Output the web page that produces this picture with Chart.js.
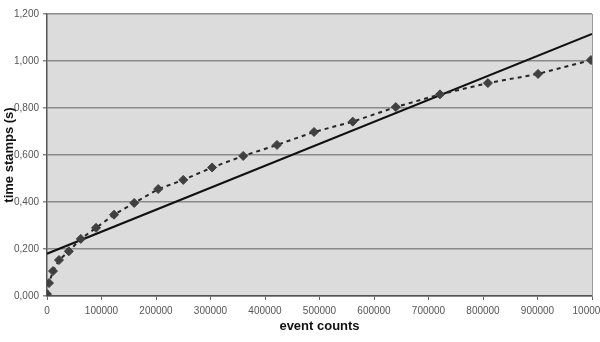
<!DOCTYPE html>
<html>
<head>
<meta charset="utf-8">
<script src="https://cdn.jsdelivr.net/npm/chart.js@4.4.1/dist/chart.umd.min.js"></script>
<style>
    html, body { margin: 0; padding: 0; background: #fff; }
    #wrap { width: 600px; height: 342px; }
</style>
</head>
<body>
<div id="wrap"><canvas id="timeChart" width="600" height="342"></canvas></div>
<script>
// measured samples: event counts vs time stamps
const eventCounts = [0, 3700, 11000, 22000, 40000, 62000, 90000, 123000, 160000, 204000,
    250000, 303000, 360000, 422000, 490000, 561000, 640000, 721000, 809000, 901000, 998000];
const timeStamps = [0.008, 0.055, 0.106, 0.153, 0.190, 0.243, 0.290, 0.346, 0.396, 0.455,
    0.494, 0.547, 0.596, 0.643, 0.698, 0.742, 0.804, 0.858, 0.906, 0.945, 1.004];

// linear trend line end points
const trendCounts = [0, 1000000];
const trendStamps = [0.180, 1.115];

const xTicks = [0, 100000, 200000, 300000, 400000, 500000, 600000, 700000, 800000, 900000, 1000000];
const yTicks = [0, 0.2, 0.4, 0.6, 0.8, 1.0, 1.2];

let samplePoints = [];
for (let i = 0; i < eventCounts.length; i++) {
    samplePoints.push({x: eventCounts[i], y: timeStamps[i]});
}
let trendPoints = [];
for (let i = 0; i < trendCounts.length; i++) {
    trendPoints.push({x: trendCounts[i], y: trendStamps[i]});
}

// grey plot background plus the right-hand border
const plotBackground = {
    id: 'plotBackground',
    beforeDraw(chart) {
        const a = chart.chartArea;
        const ctx = chart.ctx;
        ctx.save();
        ctx.fillStyle = '#dcdcdc';
        ctx.fillRect(a.left, a.top, a.right - a.left, a.bottom - a.top);
        ctx.restore();
    },
    afterDatasetsDraw(chart) {
        const a = chart.chartArea;
        const ctx = chart.ctx;
        ctx.save();
        ctx.strokeStyle = '#9a9a9a';
        ctx.lineWidth = 1;
        ctx.beginPath();
        ctx.moveTo(a.right + 0.5, a.top);
        ctx.lineTo(a.right + 0.5, a.bottom);
        ctx.stroke();
        ctx.restore();
    }
};

Chart.defaults.font.family = 'Arial, "Liberation Sans", sans-serif';

const tickFont = {size: 10};
const titleFont = {size: 13, weight: 'bold'};

new Chart(document.getElementById('timeChart'), {
    type: 'scatter',
    data: {
        datasets: [
            {
                label: 'time stamps',
                data: samplePoints,
                showLine: true,
                borderColor: '#262626',
                borderWidth: 2,
                borderDash: [4, 4],
                pointStyle: 'rectRot',
                pointRadius: 4.5,
                pointBackgroundColor: '#404040',
                pointBorderColor: '#404040',
                pointBorderWidth: 1
            },
            {
                label: 'trend',
                data: trendPoints,
                showLine: true,
                borderColor: '#111',
                borderWidth: 2,
                pointRadius: 0
            }
        ]
    },
    options: {
        responsive: false,
        animation: false,
        layout: {padding: {top: 14, right: 8, left: 0, bottom: 0}},
        plugins: {
            legend: {display: false},
            tooltip: {enabled: false}
        },
        scales: {
            x: {
                type: 'linear',
                min: 0,
                max: 1000000,
                afterBuildTicks: scale => { scale.ticks = xTicks.map(v => ({value: v})); },
                afterFit: scale => { scale.height = 46; scale.paddingRight = 0; scale.paddingLeft = 0; },
                ticks: {
                    color: '#555',
                    font: tickFont,
                    padding: 5,
                    maxRotation: 0,
                    autoSkip: false,
                    callback: v => String(v)
                },
                grid: {
                    drawOnChartArea: false,
                    drawTicks: true,
                    tickLength: 4,
                    color: '#666'
                },
                border: {color: '#555', width: 1.5},
                title: {
                    display: true,
                    text: 'event counts',
                    color: '#111',
                    font: titleFont,
                    padding: {top: 0, bottom: 8}
                }
            },
            y: {
                min: 0,
                max: 1.2,
                afterBuildTicks: scale => { scale.ticks = yTicks.map(v => ({value: v})); },
                afterFit: scale => { scale.width = 47; scale.paddingTop = 0; scale.paddingBottom = 0; },
                ticks: {
                    color: '#555',
                    font: tickFont,
                    padding: 4,
                    callback: v => v.toFixed(3).replace('.', ',')
                },
                grid: {
                    color: '#8a8a8a',
                    lineWidth: 1.5,
                    tickLength: 4
                },
                border: {color: '#555', width: 1.5},
                title: {
                    display: true,
                    text: 'time stamps (s)',
                    color: '#111',
                    font: titleFont,
                    padding: {top: 2, bottom: 0}
                }
            }
        }
    },
    plugins: [plotBackground]
});
</script>
</body>
</html>
